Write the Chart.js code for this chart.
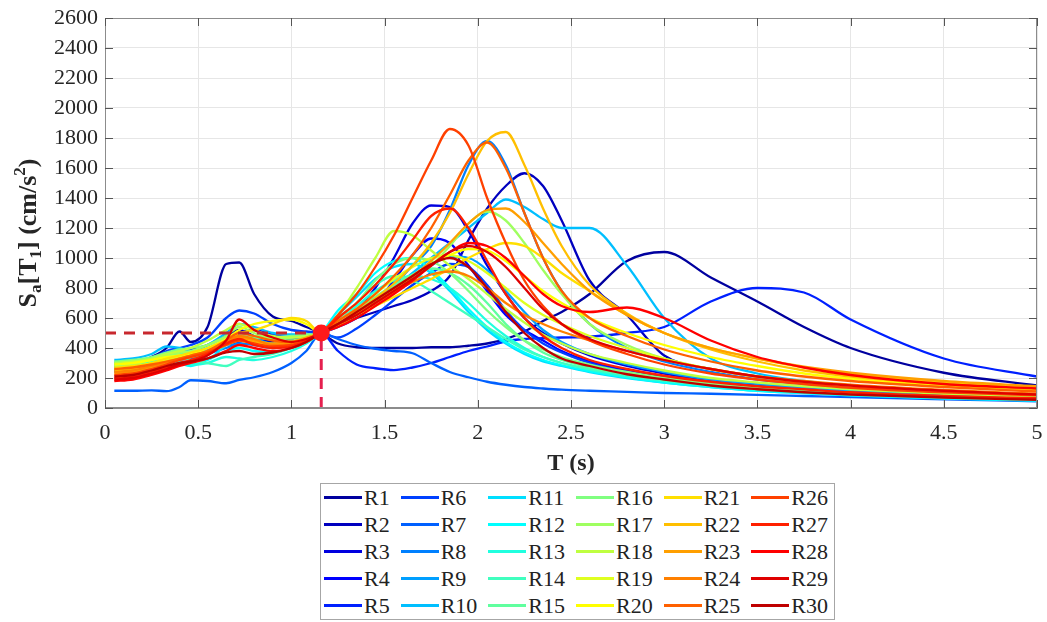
<!DOCTYPE html>
<html>
<head>
<meta charset="utf-8">
<script src="https://cdn.jsdelivr.net/npm/chart.js@4.4.1/dist/chart.umd.min.js"></script>
<style>
  html, body { margin: 0; padding: 0; background: #fff; }
  #wrap { position: relative; width: 1047px; height: 622px; overflow: hidden; }
  #chart { position: absolute; left: 0; top: 0; }
  #legend {
    position: absolute; left: 320px; top: 483px; width: 515px; height: 137px;
    box-sizing: border-box; border: 1px solid #a6a6a6; background: #fff;
    display: grid; grid-template-columns: repeat(6, max-content); grid-template-rows: repeat(5, 1fr);
    grid-auto-flow: column; justify-content: space-between; align-items: center;
    padding: 0 6px 0 3px;
    font: 22px 'Liberation Serif', 'Times New Roman', serif; color: #222;
  }
  .item { display: flex; align-items: center; white-space: nowrap; }
  .swatch { width: 38px; height: 3px; margin-right: 2px; }
</style>
</head>
<body>
<div id="wrap">
  <canvas id="chart" width="1047" height="480"></canvas>
  <div id="legend"></div>
</div>
<script>
// periods (s)
const periods = [0.05, 0.15, 0.25, 0.33, 0.4, 0.46, 0.55, 0.65, 0.72, 0.8, 0.9, 1.0, 1.08, 1.16,
  1.25, 1.35, 1.45, 1.55, 1.65, 1.75, 1.85, 1.95, 2.05, 2.15, 2.25, 2.35, 2.45, 2.6, 2.8, 3.0,
  3.25, 3.5, 3.75, 4.0, 4.5, 5.0];

// Sa (cm/s^2) for each record
const R1 = [290,300,340,400,510,440,540,960,970,760,610,580,540,500, 430,405,400,400,400,405,405,415,430,460,510,580,640,760,980,1040,870,710,540,400,235,150];
const R2 = [260,270,300,330,360,380,420,480,520,480,440,440,470,500, 560,600,640,680,720,780,880,1120,1330,1480,1565,1480,1250,850,620,350,260,210,175,150,115,90];
const R3 = [250,260,290,310,330,340,380,430,460,440,420,430,460,500, 560,650,800,1000,1230,1350,1340,1180,950,760,600,500,430,350,280,230,180,150,125,105,80,65];
const R4 = [300,310,330,350,370,390,420,470,500,520,490,470,480,500, 540,600,700,850,1020,1130,1100,950,780,620,520,450,380,310,250,210,170,140,120,100,75,60];
const R5 = [270,280,300,320,340,350,380,420,440,460,470,460,480,500, 380,290,265,253,270,300,340,380,410,445,460,465,470,475,500,540,710,800,770,590,330,210];
const R6 = [280,290,330,380,400,420,470,600,650,630,560,520,510,500, 470,530,620,720,820,900,960,940,820,650,520,430,370,300,240,200,160,130,110,95,70,55];
const R7 = [115,115,118,112,140,185,180,165,187,205,240,300,380,500, 460,420,395,380,365,300,240,205,175,155,140,130,122,115,108,100,95,88,80,72,58,45];
const R8 = [240,250,270,300,320,330,360,400,430,420,400,420,450,500, 560,640,720,820,950,1080,1320,1620,1780,1620,1300,1000,780,560,400,310,240,190,160,135,100,80];
const R9 = [260,270,300,330,350,360,390,450,480,460,430,440,470,500, 550,620,700,780,870,950,1010,1000,920,780,640,520,440,360,290,240,190,160,135,115,90,70];
const R10 = [320,330,360,410,400,380,420,500,560,540,500,490,490,500, 560,620,700,800,900,1000,1100,1200,1300,1390,1340,1260,1200,1200,950,600,330,230,180,145,105,80];
const R11 = [300,310,330,350,380,350,330,420,470,440,410,420,460,500, 620,740,860,940,960,900,780,640,520,430,360,310,280,240,200,170,140,115,100,85,65,50];
const R12 = [280,290,310,330,300,280,320,380,400,380,370,400,450,500, 650,760,900,980,1000,920,800,660,540,440,370,320,285,245,205,170,140,115,100,85,65,50];
const R13 = [270,280,300,320,310,290,300,340,330,320,340,380,430,500, 580,680,780,850,880,860,800,700,580,480,400,340,300,255,210,180,150,125,105,90,70,55];
const R14 = [300,310,320,330,340,320,300,280,320,340,360,400,440,500, 600,700,820,880,850,780,700,620,540,460,390,340,300,260,220,185,150,125,105,90,70,55];
const R15 = [290,300,320,340,360,370,400,450,480,470,460,470,480,500, 560,640,740,820,890,930,900,820,700,560,450,370,320,270,225,190,155,130,110,95,72,55];
const R16 = [310,320,340,370,390,400,420,470,500,480,470,480,490,500, 600,700,850,960,1000,980,900,780,650,540,450,390,340,290,240,200,165,140,120,100,78,62];
const R17 = [280,290,320,350,370,380,420,480,540,500,460,450,470,500, 560,620,700,780,860,950,1080,1230,1310,1250,1100,920,760,560,420,330,260,210,175,150,115,90];
const R18 = [300,310,330,360,380,400,450,520,560,520,480,470,480,500, 620,800,1000,1180,1150,1050,950,860,760,660,570,490,430,360,300,250,200,170,145,125,95,75];
const R19 = [260,270,300,320,340,360,380,420,450,430,410,420,450,500, 580,660,760,860,940,1000,1020,980,900,800,700,620,560,480,400,330,260,210,175,150,115,90];
const R20 = [290,300,320,340,350,360,400,460,520,560,580,590,560,500, 560,640,720,800,880,960,1020,1060,1050,980,880,780,700,600,500,420,340,280,230,195,150,120];
const R21 = [270,280,300,330,350,370,400,450,500,520,560,600,580,500, 560,620,680,740,800,860,930,1000,1060,1100,1080,1000,900,780,620,500,400,330,270,230,175,140];
const R22 = [250,260,290,310,330,340,370,420,460,440,420,430,460,500, 560,640,730,830,950,1100,1300,1560,1780,1840,1620,1330,1080,820,630,500,390,310,250,210,160,125];
const R23 = [230,240,270,300,330,350,380,430,470,450,430,440,470,500, 550,620,700,790,880,980,1100,1230,1320,1330,1240,1100,960,780,620,500,400,330,275,235,180,145];
const R24 = [240,250,280,300,320,340,380,440,480,460,420,420,450,500, 560,630,700,770,840,890,910,880,800,700,620,560,510,450,380,320,260,210,180,155,120,95];
const R25 = [260,270,290,310,330,350,380,450,500,480,450,440,460,500, 580,660,760,880,1020,1200,1420,1650,1770,1600,1300,1000,780,600,480,390,310,250,210,180,140,110];
const R26 = [220,230,260,290,320,340,370,420,450,430,410,420,450,500, 620,760,940,1150,1400,1650,1860,1750,1400,1100,850,680,560,450,360,290,230,190,160,135,105,85];
const R27 = [200,210,240,270,300,320,360,430,460,420,400,410,450,500, 600,700,820,960,1120,1280,1330,1200,980,760,600,480,400,320,260,215,175,145,125,105,80,65];
const R28 = [180,190,220,250,280,300,330,380,420,400,380,400,440,500, 540,600,680,760,850,950,1040,1100,1080,1000,880,760,680,640,670,600,450,340,270,220,160,130];
const R29 = [190,200,230,260,290,310,350,450,590,520,470,440,460,500, 560,620,700,780,860,950,1040,1080,1040,940,800,660,560,460,380,320,260,210,175,150,115,90];
const R30 = [210,220,250,280,300,310,330,370,380,360,370,400,440,500, 560,640,720,800,880,960,1000,940,800,640,500,400,330,280,225,190,150,125,105,90,70,55];

const records = [R1,R2,R3,R4,R5,R6,R7,R8,R9,R10,R11,R12,R13,R14,R15,R16,R17,R18,R19,R20,R21,R22,R23,R24,R25,R26,R27,R28,R29,R30];
const recordNames = records.map((_, i) => 'R' + (i + 1));

// target period / spectral acceleration
const targetT = 1.16;
const targetSa = 500;

const xTicks = [0, 0.5, 1, 1.5, 2, 2.5, 3, 3.5, 4, 4.5, 5];

// MATLAB-like jet colormap
function jet(i, n) {
  const m = Math.ceil(n / 4);
  const u = [];
  for (let k = 1; k <= m; k++) u.push(k / m);
  for (let k = 1; k < m; k++) u.push(1);
  for (let k = m; k >= 1; k--) u.push(k / m);
  const g0 = Math.ceil(m / 2) - (n % 4 === 1 ? 1 : 0);
  const rgb = [0, 0, 0];
  u.forEach((v, k) => {
    const g = g0 + k + 1;
    if (g + m === i + 1) rgb[0] = v;
    if (g === i + 1) rgb[1] = v;
    if (g - m === i + 1) rgb[2] = v;
  });
  return 'rgb(' + rgb.map(v => Math.round(v * 255)).join(',') + ')';
}

const serif = "'Liberation Serif', 'Times New Roman', serif";

const datasets = records.map((vals, i) => ({
  label: recordNames[i],
  data: periods.map((t, k) => ({ x: t, y: vals[k] })),
  borderColor: jet(i, records.length),
  borderWidth: 2.3,
  pointRadius: 0,
  cubicInterpolationMode: 'monotone',
  order: 40 - i,
}));

datasets.push({
  label: 'targetH',
  data: [{ x: 0, y: targetSa }, { x: targetT, y: targetSa }],
  borderColor: '#c8282e',
  borderWidth: 3,
  borderDash: [11, 8],
  pointRadius: 0,
  order: 1,
});
datasets.push({
  label: 'targetV',
  data: [{ x: targetT, y: 0 }, { x: targetT, y: targetSa }],
  borderColor: '#e5204f',
  borderWidth: 3,
  borderDash: [11, 8],
  pointRadius: [0, 7],
  pointBackgroundColor: '#ff1a1a',
  pointBorderColor: '#ff1a1a',
  order: 0,
});

// y-axis title with real sub/superscripts: S_a[T_1] (cm/s^2)
const yTitleParts = [
  { t: 'S', k: 'n' }, { t: 'a', k: 'sub' }, { t: '[T', k: 'n' }, { t: '1', k: 'sub' },
  { t: '] (cm/s', k: 'n' }, { t: '2', k: 'sup' }, { t: ')', k: 'n' },
];

const framePlugin = {
  id: 'frame',
  afterDraw(chart) {
    const { ctx, chartArea: a, scales } = chart;
    ctx.save();
    ctx.strokeStyle = '#8c8c8c';
    ctx.lineWidth = 1;
    ctx.strokeRect(a.left + 0.5, a.top + 0.5, a.right - a.left - 1, a.bottom - a.top - 1);
    ctx.strokeStyle = '#555';
    ctx.beginPath();
    xTicks.forEach(t => {
      const x = Math.round(scales.x.getPixelForValue(t)) + 0.5;
      ctx.moveTo(x, a.bottom); ctx.lineTo(x, a.bottom - 8);
      ctx.moveTo(x, a.top); ctx.lineTo(x, a.top + 8);
    });
    for (let v = 0; v <= 2600; v += 200) {
      const y = Math.round(scales.y.getPixelForValue(v)) + 0.5;
      ctx.moveTo(a.left, y); ctx.lineTo(a.left + 8, y);
      ctx.moveTo(a.right, y); ctx.lineTo(a.right - 8, y);
    }
    ctx.stroke();

    // y title
    const big = 'bold 26px ' + serif, small = 'bold 17px ' + serif;
    let total = 0;
    yTitleParts.forEach(p => { ctx.font = p.k === 'n' ? big : small; p.w = ctx.measureText(p.t).width; total += p.w; });
    ctx.translate(36, (a.top + a.bottom) / 2 + 20);
    ctx.rotate(-Math.PI / 2);
    ctx.fillStyle = '#262626';
    ctx.textBaseline = 'alphabetic';
    let x = -total / 2;
    yTitleParts.forEach(p => {
      ctx.font = p.k === 'n' ? big : small;
      const dy = p.k === 'sub' ? 5 : p.k === 'sup' ? -11 : 0;
      ctx.fillText(p.t, x, dy);
      x += p.w;
    });
    ctx.restore();
  }
};

new Chart(document.getElementById('chart'), {
  type: 'line',
  data: { datasets },
  options: {
    responsive: false,
    animation: false,
    layout: { padding: { top: 18, right: 2, bottom: 2, left: 0 } },
    plugins: { legend: { display: false }, tooltip: { enabled: false } },
    scales: {
      x: {
        type: 'linear', min: 0, max: 5,
        afterBuildTicks: s => { s.ticks = xTicks.map(v => ({ value: v })); },
        afterFit: s => { s.height = 70; s.paddingLeft = 0; s.paddingRight = 0; },
        grid: { color: '#e6e6e6', drawTicks: false },
        border: { color: '#8c8c8c' },
        ticks: { padding: 12, color: '#262626', font: { family: serif, size: 22 }, maxRotation: 0,
          callback: v => String(v) },
        title: { display: true, text: 'T (s)', color: '#262626', padding: 0,
          font: { family: serif, size: 24, weight: 'bold' } },
      },
      y: {
        min: 0, max: 2600,
        afterFit: s => { s.width = 105; s.paddingTop = 0; s.paddingBottom = 0; },
        grid: { color: '#e6e6e6', drawTicks: false },
        border: { color: '#8c8c8c' },
        ticks: { stepSize: 200, padding: 7, color: '#262626', font: { family: serif, size: 22 },
          callback: v => String(v) },
        title: { display: false },
      },
    },
  },
  plugins: [framePlugin],
});

// legend, column-major like the original
const legend = document.getElementById('legend');
recordNames.forEach((name, i) => {
  const item = document.createElement('div');
  item.className = 'item';
  const sw = document.createElement('span');
  sw.className = 'swatch';
  sw.style.background = jet(i, records.length);
  const txt = document.createElement('span');
  txt.textContent = name;
  item.appendChild(sw);
  item.appendChild(txt);
  legend.appendChild(item);
});
</script>
</body>
</html>
